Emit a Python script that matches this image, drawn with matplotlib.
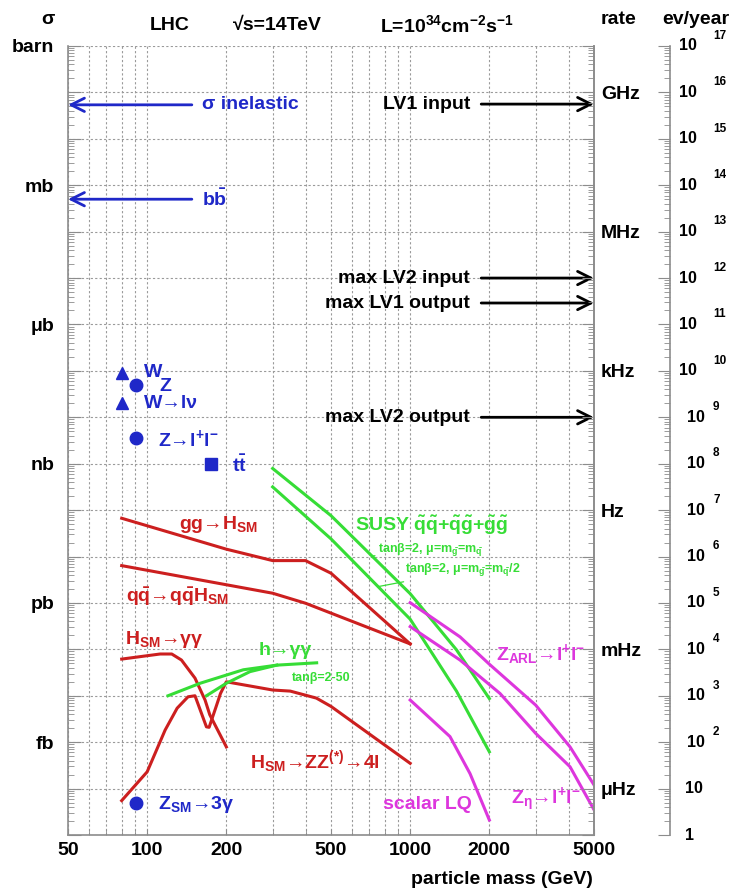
import numpy as np
import matplotlib
matplotlib.use("Agg")
import matplotlib.pyplot as plt
from matplotlib import transforms
from matplotlib.ticker import FixedLocator, FuncFormatter, LogLocator, NullFormatter

plt.rcParams['font.family'] = ['Liberation Sans', 'DejaVu Sans']
plt.rcParams['font.weight'] = 'bold'
plt.rcParams['mathtext.fontset'] = 'custom'
plt.rcParams['mathtext.rm'] = 'Liberation Sans:bold'
plt.rcParams['mathtext.it'] = 'Liberation Sans:bold'
plt.rcParams['mathtext.bf'] = 'Liberation Sans:bold'
plt.rcParams['mathtext.default'] = 'rm'

BLUE = '#1f28c8'
RED = '#cc1f1f'
GREEN = '#36dd36'
MAGENTA = '#dd36dd'
GRAY = '#8c8c8c'

# L = 1e34 cm^-2 s^-1 over 1e7 s  ->  1 fb gives 100 events per year
EV_PER_FB = 100.0
FB_PER_HZ = 1e5

# cross sections in fb, masses in GeV
gg_h_mass = [80, 200, 300, 400, 500, 1000]
gg_h_xs = [66800, 14400, 8170, 8170, 4370, 131]

qqh_mass = [80, 300, 400, 1000]
qqh_xs = [6370, 1620, 986, 131]

h_gamgam_mass = [80, 112, 124, 135, 152, 166, 173, 200]
h_gamgam_xs = [61.7, 79.4, 79.4, 58.9, 24.0, 8.1, 3.9, 0.79]

h_zz_mass = [80, 100, 117, 130, 143, 152, 168, 172, 183, 190, 200, 300, 350, 440, 500, 1000]
h_zz_xs = [0.055, 0.23, 1.82, 5.4, 9.5, 10.0, 2.14, 2.09, 5.9, 11.2, 20.0, 13.3, 12.6, 8.9, 5.9, 0.35]

mssm_gamgam_a_mass = [120, 159, 232, 311, 441]
mssm_gamgam_a_xs = [10, 18.6, 36.3, 45.7, 51.3]
mssm_gamgam_b_mass = [168, 200, 246, 311]
mssm_gamgam_b_xs = [10, 18.6, 33.1, 45.7]

susy_mass = [300, 500, 1000, 1500, 2000]
susy_full_xs = [7.9e5, 7.6e4, 1585, 97.7, 8.7]
susy_half_xs = [3.16e5, 2.4e4, 447, 12.6, 0.62]

z_arl_mass = [1000, 1547, 2000, 3000, 4054, 5000]
z_arl_xs = [1014, 186, 47.9, 6.3, 0.79, 0.12]

z_eta_mass = [1000, 1547, 2196, 3000, 4054, 5000]
z_eta_xs = [309, 58.9, 11.2, 1.55, 0.295, 0.035]

lq_mass = [1000, 1417, 1689, 2000]
lq_xs = [8.1, 1.32, 0.21, 0.021]

# single points (mass, fb)
w_total = (80, 9.1e7)
z_total = (91, 5.0e7)
w_lnu = (80, 2.0e7)
z_ll = (91, 3.5e6)
ttbar = (175, 1.0e6)
z_3gamma = (91, 0.05)

sigma_inelastic = 5.4e13
sigma_bbbar = 5.0e11

# trigger rates in Hz
trigger_names = ['LV1 input', 'max LV2 input', 'max LV1 output', 'max LV2 output']
trigger_rates = [5.6e8, 1e5, 2.9e4, 1e2]

unit_names = ['barn', 'mb', 'μb', 'nb', 'pb', 'fb']
unit_fb = [1e15, 1e12, 1e9, 1e6, 1e3, 1]

rate_names = ['GHz', 'MHz', 'kHz', 'Hz', 'mHz', 'μHz']
rate_hz = [1e9, 1e6, 1e3, 1, 1e-3, 1e-6]

mass_labels = [50, 100, 200, 500, 1000, 2000, 5000]
mass_grid = [60, 70, 80, 90, 300, 400, 600, 700, 800, 900, 3000, 4000]

W, H = 737, 891
fig = plt.figure(figsize=(W / 100, H / 100), dpi=100)
ax = fig.add_axes([68 / W, 56 / H, 526 / W, 789 / H])
ax.set_xscale('log')
ax.set_yscale('log')
ax.set_xlim(50, 5000)
ymin, ymax = 1e-2, 1e15
ax.set_ylim(ymin, ymax)

for s in ['left', 'bottom', 'right']:
    ax.spines[s].set_color(GRAY)
    ax.spines[s].set_linewidth(1.2)
ax.spines['top'].set_visible(False)

ax.xaxis.set_major_locator(FixedLocator(mass_labels))
ax.xaxis.set_minor_locator(FixedLocator(mass_grid))
ax.xaxis.set_major_formatter(FuncFormatter(lambda v, p: f'{v:.0f}'))
ax.xaxis.set_minor_formatter(NullFormatter())

decades = [10.0 ** k for k in range(-2, 16)]
ax.yaxis.set_major_locator(FixedLocator(decades))
ax.yaxis.set_minor_locator(LogLocator(base=10, subs=np.arange(2, 10), numticks=40))
unit_map = {round(np.log10(v)): n for v, n in zip(unit_fb, unit_names)}
ax.yaxis.set_major_formatter(FuncFormatter(lambda v, p: unit_map.get(round(np.log10(v)), '')))
ax.yaxis.set_minor_formatter(NullFormatter())

ax.tick_params(axis='both', which='both', direction='in', colors=GRAY, labelcolor='black',
               labelsize=14, right=False, top=False)
ax.tick_params(axis='y', which='major', length=9, pad=10)
ax.tick_params(axis='y', which='minor', length=4)
ax.tick_params(axis='x', which='both', length=4, pad=5)

grid_kw = dict(color='#9a9a9a', linestyle=(0, (2, 2)), linewidth=0.8)
ax.grid(True, which='both', axis='x', **grid_kw)
ax.grid(True, which='major', axis='y', **grid_kw)
ax.set_axisbelow(True)

# right side of the frame: trigger rate units
ax2 = ax.twinx()
ax2.set_yscale('log')
ax2.set_ylim(ymin, ymax)
for s in ['left', 'top', 'bottom']:
    ax2.spines[s].set_visible(False)
ax2.spines['right'].set_color(GRAY)
ax2.spines['right'].set_linewidth(1.2)
ax2.yaxis.set_major_locator(FixedLocator(decades))
ax2.yaxis.set_minor_locator(LogLocator(base=10, subs=np.arange(2, 10), numticks=40))
rate_map = {round(np.log10(h * FB_PER_HZ)): n for h, n in zip(rate_hz, rate_names)}
ax2.yaxis.set_major_formatter(FuncFormatter(lambda v, p: rate_map.get(round(np.log10(v)), '')))
ax2.yaxis.set_minor_formatter(NullFormatter())
ax2.tick_params(axis='y', which='both', direction='in', colors=GRAY, labelcolor='black', labelsize=14)
ax2.tick_params(axis='y', which='major', length=9, pad=5)
ax2.tick_params(axis='y', which='minor', length=4)

# events per year axis
ax3 = ax.twinx()
ax3.set_yscale('log')
ax3.set_ylim(ymin * EV_PER_FB, ymax * EV_PER_FB)
for s in ['left', 'top', 'bottom']:
    ax3.spines[s].set_visible(False)
ax3.spines['right'].set_position(('axes', (670 - 68) / 526))
ax3.spines['right'].set_color(GRAY)
ax3.spines['right'].set_linewidth(1.2)
ax3.yaxis.set_major_locator(FixedLocator([10.0 ** k for k in range(0, 18)]))
ax3.yaxis.set_minor_locator(LogLocator(base=10, subs=np.arange(2, 10), numticks=40))
ax3.yaxis.set_major_formatter(NullFormatter())
ax3.yaxis.set_minor_formatter(NullFormatter())
ax3.tick_params(axis='y', which='both', direction='in', colors=GRAY)
ax3.tick_params(axis='y', which='major', length=9)
ax3.tick_params(axis='y', which='minor', length=4)

ev_tr = transforms.blended_transform_factory(fig.transFigure, ax3.transData)
for k in range(0, 18):
    v = 10.0 ** k
    if k == 0:
        fig.text(685 / W, v, '1', transform=ev_tr, ha='left', va='center', fontsize=11.5)
    elif k == 1:
        fig.text(685 / W, v, '10', transform=ev_tr, ha='left', va='center', fontsize=11.5)
    else:
        xb = 697 if k >= 10 else 705
        fig.text(xb / W, v, '10', transform=ev_tr, ha='right', va='center', fontsize=11.5)
        fig.text(713 / W, v * 10 ** 0.22, str(k), transform=ev_tr, ha='left', va='center',
                 fontsize=8.5)

# Standard Model Higgs and MSSM curves
lw = 2.2
ax.plot(gg_h_mass, gg_h_xs, color=RED, lw=lw)
ax.plot(qqh_mass, qqh_xs, color=RED, lw=lw)
ax.plot(h_gamgam_mass, h_gamgam_xs, color=RED, lw=lw)
ax.plot(h_zz_mass, h_zz_xs, color=RED, lw=lw)
ax.plot(mssm_gamgam_a_mass, mssm_gamgam_a_xs, color=GREEN, lw=lw)
ax.plot(mssm_gamgam_b_mass, mssm_gamgam_b_xs, color=GREEN, lw=lw)
ax.plot(susy_mass, susy_full_xs, color=GREEN, lw=lw)
ax.plot(susy_mass, susy_half_xs, color=GREEN, lw=lw)
ax.plot(z_arl_mass, z_arl_xs, color=MAGENTA, lw=lw)
ax.plot(z_eta_mass, z_eta_xs, color=MAGENTA, lw=lw)
ax.plot(lq_mass, lq_xs, color=MAGENTA, lw=lw)

# W, Z, top points
ax.plot(*w_total, marker='^', color=BLUE, ms=8, clip_on=False)
ax.plot(*w_lnu, marker='^', color=BLUE, ms=8)
ax.plot(*z_total, marker='o', color=BLUE, ms=9)
ax.plot(*z_ll, marker='o', color=BLUE, ms=9)
ax.plot(*ttbar, marker='s', color=BLUE, ms=8)
ax.plot(*z_3gamma, marker='o', color=BLUE, ms=9)

fs = 14
ax.text(97.5, 9.1e7, 'W', color=BLUE, fontsize=fs, ha='left', va='center')
ax.text(111, 4.6e7, 'Z', color=BLUE, fontsize=fs, ha='left', va='center')
ax.text(97.5, 1.95e7, 'W→lν', color=BLUE, fontsize=fs, ha='left', va='center')
ax.text(110, 3.4e6, 'Z→l$^{+}$l$^{-}$', color=BLUE, fontsize=fs, ha='left', va='center')
ax.text(211, 9.3e5, r't$\bar{t}$', color=BLUE, fontsize=fs, ha='left', va='center')
ax.text(110, 0.045, r'Z$_{SM}$→3γ', color=BLUE, fontsize=fs, ha='left', va='center')

ax.text(132, 4.8e4, 'gg→H$_{SM}$', color=RED, fontsize=fs, ha='left', va='center')
ax.text(83, 1365, r'q$\bar{q}$→q$\bar{q}$H$_{SM}$', color=RED, fontsize=fs, ha='left', va='center')
ax.text(82, 166, 'H$_{SM}$→γγ', color=RED, fontsize=fs, ha='left', va='center')
ax.text(245, 0.38, 'H$_{SM}$→ZZ$^{(*)}$→4l', color=RED, fontsize=fs, ha='left', va='center')

ax.text(265, 93, 'h→γγ', color=GREEN, fontsize=fs, ha='left', va='center')
ax.text(354, 24, 'tanβ=2-50', color=GREEN, fontsize=9, ha='left', va='center')
ax.text(616, 4.8e4, r'SUSY $\tilde{q}\tilde{q}$+$\tilde{q}\tilde{g}$+$\tilde{g}\tilde{g}$',
        color=GREEN, fontsize=fs, ha='left', va='center')


def on_curve(m, mass, xs):
    return float(np.exp(np.interp(np.log(m), np.log(mass), np.log(xs))))


leader = dict(arrowstyle='-', color=GREEN, lw=0.9, shrinkA=0, shrinkB=0)
ax.annotate(r'tanβ=2, μ=m$_{\tilde{g}}$=m$_{\tilde{q}}$', xy=(716, on_curve(716, susy_mass, susy_full_xs)),
            xytext=(753, 1.38e4), color=GREEN, fontsize=9, ha='left', va='center', arrowprops=leader)
ax.annotate(r'tanβ=2, μ=m$_{\tilde{g}}$=m$_{\tilde{q}}$/2', xy=(755, on_curve(755, susy_mass, susy_half_xs)),
            xytext=(959, 5.0e3), color=GREEN, fontsize=9, ha='left', va='center', arrowprops=leader)

ax.text(2120, 76, 'Z$_{ARL}$→l$^{+}$l$^{-}$', color=MAGENTA, fontsize=fs, ha='left', va='center')
ax.text(2417, 0.056, 'Z$_{η}$→l$^{+}$l$^{-}$', color=MAGENTA, fontsize=fs, ha='left', va='center')
ax.text(790, 0.045, 'scalar LQ', color=MAGENTA, fontsize=fs, ha='left', va='center')

# total cross sections pointing at the sigma scale
head = '->,head_length=0.6,head_width=0.3'
for label, xs in [('σ inelastic', sigma_inelastic), (r'b$\bar{b}$', sigma_bbbar)]:
    ax.annotate(label, xy=(50, xs), xytext=(161, xs), color=BLUE, fontsize=fs, ha='left', va='center',
                arrowprops=dict(arrowstyle=head, color=BLUE, lw=2, shrinkA=5, shrinkB=0,
                                mutation_scale=16))

# trigger levels pointing at the rate scale
for label, hz in zip(trigger_names, trigger_rates):
    ax.annotate(label, xy=(5000, hz * FB_PER_HZ), xytext=(1690, hz * FB_PER_HZ), color='black',
                fontsize=fs, ha='right', va='center',
                arrowprops=dict(arrowstyle=head, color='black', lw=2, shrinkA=6, shrinkB=0,
                                mutation_scale=16))

# header and axis captions
def top(x, y, s, **kw):
    fig.text(x / W, 1 - y / H, s, ha='center', va='center', fontsize=14, **kw)


top(48, 19, 'σ')
top(170, 25, 'LHC')
top(277, 25, '√s=14TeV')
top(447, 25, 'L=10$^{34}$cm$^{-2}$s$^{-1}$')
top(618, 19, 'rate')
top(696, 20, 'ev/year')
fig.text(593 / W, 1 - 880 / H, 'particle mass (GeV)', ha='right', va='center', fontsize=14)

fig.savefig('out.png', dpi=100)
